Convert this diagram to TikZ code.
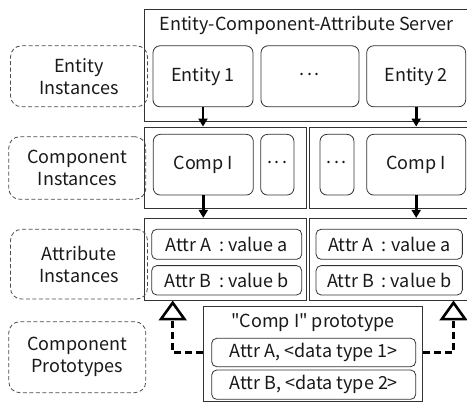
\documentclass[tikz,border=0pt]{standalone}
\usepackage{fontspec}
\setmainfont{Noto Sans CJK JP}[Ligatures=TeXOff]
\usetikzlibrary{arrows.meta}
\newcommand{\middots}{\raisebox{0.4ex}{.\kern2.5pt.\kern2.5pt.}}
\begin{document}
\begin{tikzpicture}[x=1pt,y=-1pt,
  every node/.style={font=\fontsize{18}{22}\selectfont, text=black!90, inner sep=0pt, align=center},
  panel/.style={draw=black!80, line width=0.8pt, minimum width=#1},
  rowh/.style={minimum height=#1},
  inst/.style={draw=black!80, line width=0.8pt, rounded corners=7pt},
  lab/.style={draw=black!70, line width=0.8pt, dash pattern=on 4pt off 2.5pt, rounded corners=11pt, minimum width=137pt},
  flow/.style={line width=2.6pt, -{Triangle[length=8pt, width=9pt]}},
  realize/.style={line width=2.8pt, dash pattern=on 7pt off 4pt,
     -{Triangle[open, length=20pt, width=28pt, line width=2.6pt]}}
]
\useasboundingbox (0,0) rectangle (467,403);

% server with the entity row
\node[panel=336pt, rowh=112pt] (server) at (312,65) {};
\node (srvtitle) at (306.5,25) {Entity-Component-Attribute Server};
\node[inst, minimum width=100pt, minimum height=61pt] (ent1) at (203,76.3) {Entity 1};
\node[inst, minimum width=98pt, minimum height=61pt] (entdots) at (310,76.3) {\middots};
\node[inst, minimum width=99pt, minimum height=61pt] (ent2) at (416.2,76.3) {Entity 2};

% component rows
\node[panel=162.5pt, rowh=81.3pt] (compL) at (225.25,167.6) {};
\node[panel=170.5pt, rowh=81.3pt] (compR) at (394.75,167.6) {};
\node[inst, minimum width=100pt, minimum height=60.7pt] (comp1) at (203.3,164.7) {Comp I};
\node[inst, minimum width=33.3pt, minimum height=60.7pt] (cdotsL) at (277.3,164.7) {\middots};
\node[inst, minimum width=34pt, minimum height=60.7pt] (cdotsR) at (337,164.7) {\middots};
\node[inst, minimum width=99pt, minimum height=60.7pt] (comp2) at (416.2,164.7) {Comp I};

% attribute rows
\node[panel=162.5pt, rowh=82.2pt] (attrL) at (225.25,259.4) {};
\node[panel=170.5pt, rowh=82.2pt] (attrR) at (394.75,259.4) {};
\node[inst, rounded corners=5pt, minimum width=150pt, minimum height=30pt] (aL) at (226.7,244.3) {Attr A \ : value a};
\node[inst, rounded corners=5pt, minimum width=150pt, minimum height=29.3pt] (bL) at (226.7,280.3) {Attr B \ : value b};
\node[inst, rounded corners=5pt, minimum width=146.3pt, minimum height=30pt] (aR) at (389.2,244.3) {Attr A \ : value a};
\node[inst, rounded corners=5pt, minimum width=146.3pt, minimum height=29.3pt] (bR) at (389.2,280.3) {Attr B \ : value b};

% prototype
\node[panel=219.4pt, rowh=94.8pt, fill=white] (proto) at (313,354) {};
\node (prototitle) at (313,322.7) {"Comp I" prototype};
\node[inst, rounded corners=5pt, minimum width=204pt, minimum height=28.4pt] (pA) at (313.7,352.5) {Attr A, <data type 1>};
\node[inst, rounded corners=5pt, minimum width=204pt, minimum height=29.3pt] (pB) at (313.7,384.7) {Attr B, <data type 2>};

% row labels
\node[lab, minimum height=61pt] (labEnt) at (79,76.3) {Entity\\Instances};
\node[lab, minimum height=62.6pt] (labComp) at (77.3,168) {Component\\Instances};
\node[lab, minimum height=69.7pt] (labAttr) at (79,264.2) {Attribute\\Instances};
\node[lab, minimum height=71pt] (labProto) at (77.3,357.2) {Component\\Prototypes};

% instance links
\draw[flow] (ent1.south) -- (ent1.south |- compL.north);
\draw[flow] (ent2.south) -- (ent2.south |- compR.north);
\draw[flow] (comp1.south) -- (comp1.south |- attrL.north);
\draw[flow] (comp2.south) -- (comp2.south |- attrR.north);

% prototype realisation links
\coordinate (tipL) at (172.7,300.5);
\coordinate (tipR) at (453.5,300.5);
\draw[realize] (pA.center -| proto.west) -| (tipL);
\draw[realize] (pA.center -| proto.east) -| (tipR);
\end{tikzpicture}
\end{document}
